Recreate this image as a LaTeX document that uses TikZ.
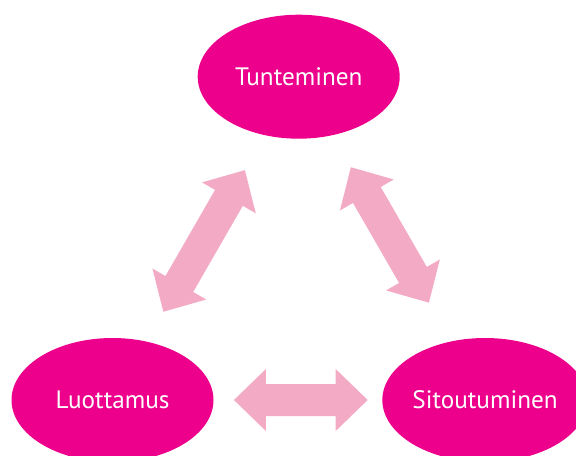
\documentclass[tikz,border=0pt]{standalone}
\usepackage{fontspec}
\setmainfont{PT Sans}
\usetikzlibrary{calc,shapes.geometric}
\definecolor{bubblemag}{HTML}{EC008C}
\definecolor{arrowpink}{HTML}{F3AAC5}
% double block arrow between two tips
\newcommand{\dblarrow}[2]{%
  \coordinate (da) at (#1);
  \coordinate (db) at (#2);
  \coordinate (ha) at ($(da)!16pt!(db)$);
  \coordinate (hb) at ($(db)!16pt!(da)$);
  \fill[arrowpink] (da) -- ($(ha)!15.5pt!90:(db)$) -- ($(ha)!8pt!90:(db)$)
    -- ($(hb)!8pt!-90:(da)$) -- ($(hb)!15.5pt!-90:(da)$) -- (db)
    -- ($(hb)!15.5pt!90:(da)$) -- ($(hb)!8pt!90:(da)$)
    -- ($(ha)!8pt!-90:(db)$) -- ($(ha)!15.5pt!-90:(db)$) -- cycle;
}
\begin{document}
\begin{tikzpicture}[x=0.5pt,y=-0.5pt,
  bubble/.style={ellipse,fill=bubblemag,text=white,inner sep=0pt,
    minimum width=101pt,minimum height=62pt,font=\fontsize{12.6}{14}\selectfont}]
\useasboundingbox (0,0) rectangle (576,455);
\clip (0,0) rectangle (576,455);

% the three bubbles
\node[bubble] (tunt) at (298.7,76.7) {Tunteminen};
\node[bubble] (luot) at (112.5,400) {Luottamus};
\node[bubble] (sito) at (485,400) {Sitoutuminen};

% arrows between them
\dblarrow{$(luot)!0.273!(tunt)$}{$(luot)!0.711!(tunt)$}
\dblarrow{$(tunt)!0.280!(sito)$}{$(tunt)!0.699!(sito)$}
\dblarrow{$(luot)!0.326!(sito)$}{$(luot)!0.685!(sito)$}
\end{tikzpicture}
\end{document}
